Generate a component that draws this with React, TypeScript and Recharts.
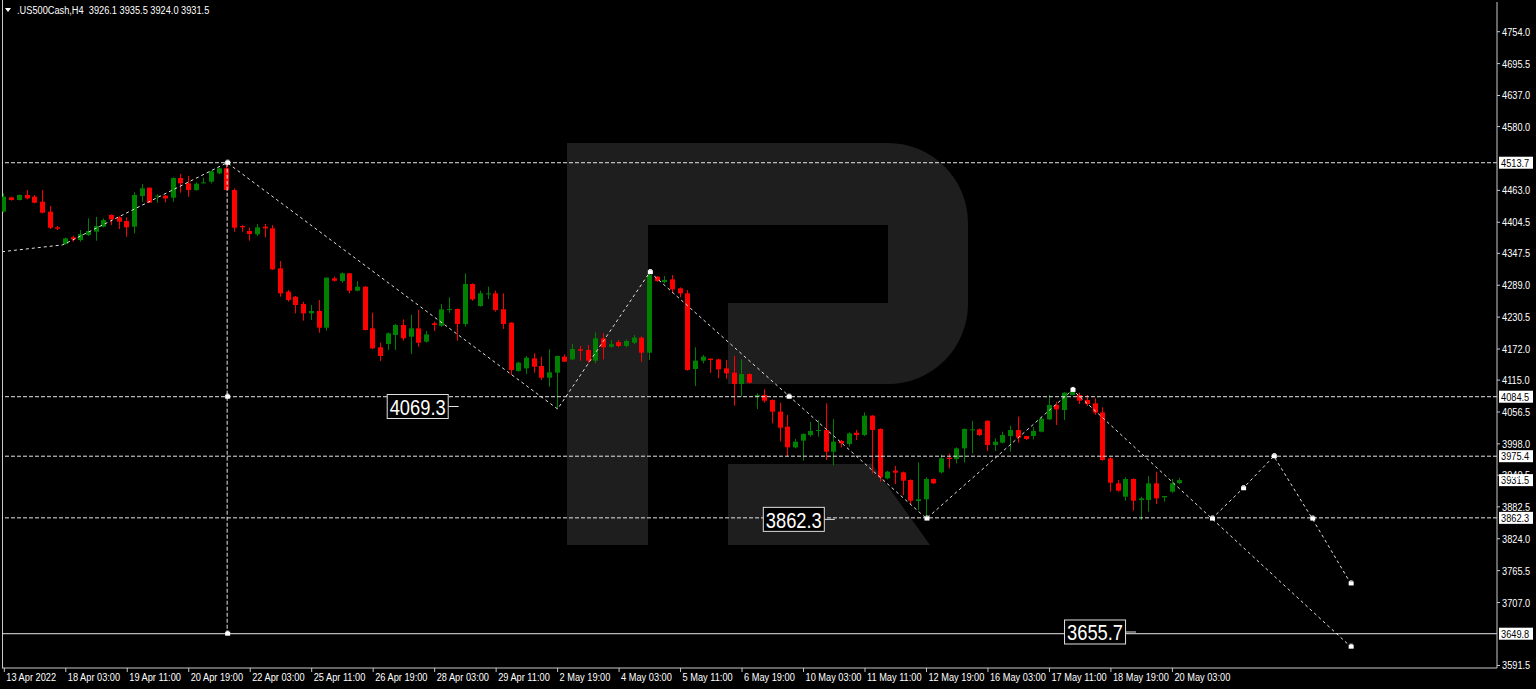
import React from 'react';
import { ComposedChart, XAxis, YAxis, Bar, Line, Scatter, ReferenceLine, ReferenceDot } from 'recharts';

// ---- data (US500Cash H4) ----
const OPEN = [4424,4450.2,4445.3,4454.5,4451.4,4442.2,4423.9,4395.2,4364.6,4376.8,4371.9,4381.1,4387.2,4396.4,4417.8,4413.5,4406.8,4396.4,4452.6,4467.9,4451.4,4453.2,4449.6,4485.6,4475.9,4463.6,4476.5,4478.9,4494.2,4503.4,4463.6,4397.6,4388.4,4382.3,4396.4,4393.3,4319.9,4277.2,4268.0,4254.5,4237.4,4241.7,4211.1,4301.6,4296.7,4310.8,4279.0,4286.3,4209.9,4175.1,4181.2,4197.7,4216.0,4194.6,4209.9,4185.5,4219.1,4214.8,4243.5,4245.4,4217.8,4291.2,4250.9,4272.9,4274.1,4244.8,4220.3,4131.7,4136.5,4154.9,4140.8,4119.4,4128.6,4157.9,4153.0,4171.4,4170.2,4150.6,4191.6,4176.3,4184.8,4177.5,4183.6,4192.8,4165.3,4304.7,4294.9,4299.8,4283.3,4274.1,4135.3,4150.6,4154.3,4153.0,4136.5,4128.6,4107.8,4126.1,4084.6,4087.6,4078.5,4057.1,4029.6,3991.6,4003.9,4014.2,4021.6,4023.4,3983.7,4003.3,3997.8,4018.5,4014.2,4049.7,4025.3,3934.8,3948.8,3945.8,3931.7,3893.2,3896.3,3933.6,3945.8,3972.7,3970.2,3989.8,4023.4,4024.6,4040.5,3995.9,4000.2,4012.4,4023.4,4012.4,4012.4,4020.4,4043.0,4069.3,4060.1,4087.6,4087.6,4078.4,4072.3,4055.8,3971.5,3925.6,3901.1,3933.6,3895.0,3895.0,3925.6,3899.9,3910.3,3926.1];
const HIGH = [4457.5,4451.4,4455.7,4463.6,4454.5,4463.6,4434.3,4397.6,4376.2,4379.9,4390.3,4411.7,4414.7,4411.7,4419.0,4415.9,4413.5,4459.4,4474.6,4468.5,4455.7,4454.5,4486.9,4493.0,4489.3,4477.7,4486.3,4499.1,4504.6,4513.7,4466.7,4399.4,4394.5,4401.3,4401.3,4399.4,4333.4,4280.2,4269.2,4258.8,4252.7,4261.9,4303.5,4304.7,4312.6,4311.5,4296.7,4287.5,4238.6,4183.6,4202.6,4217.9,4226.4,4235.0,4243.5,4205.0,4222.1,4254.5,4266.8,4246.6,4310.8,4292.4,4279.0,4286.3,4279.0,4274.1,4221.0,4148.8,4159.2,4164.1,4158.0,4171.4,4159.8,4162.2,4181.2,4177.5,4179.3,4202.6,4200.8,4188.5,4188.5,4189.7,4197.7,4195.2,4313.9,4305.9,4305.9,4307.7,4285.1,4280.2,4175.1,4161.0,4154.9,4154.3,4151.8,4159.2,4153.0,4127.4,4090.7,4098.0,4079.7,4073.6,4050.9,4007.0,4017.3,4038.7,4041.8,4072.4,4043.6,4005.1,4019.2,4023.4,4055.8,4050.9,4026.5,3948.8,3957.4,3947.0,3932.9,3964.1,3936.6,3934.8,3978.2,3980.6,3991.6,4026.5,4040.5,4026.5,4041.0,4008.1,4020.4,4031.4,4047.9,4012.9,4029.5,4047.9,4087.6,4075.4,4092.5,4096.8,4091.9,4087.6,4081.5,4065.0,3973.3,3931.7,3936.6,3934.8,3901.1,3939.0,3947.0,3902.4,3933.6,3935.5];
const LOW = [4422,4444.1,4444.5,4446.5,4439.2,4420.8,4392.1,4390.3,4363.4,4368.9,4368.9,4379.3,4370.7,4395.2,4399.4,4392.1,4378.0,4384.2,4442.2,4439.8,4440.4,4441.0,4442.2,4458.7,4451.4,4462.4,4475.9,4475.9,4492.4,4462.4,4387.2,4387.2,4370.7,4379.3,4376.8,4316.9,4268.0,4258.8,4237.4,4224.0,4225.2,4201.9,4205.6,4295.5,4293.7,4274.1,4277.8,4206.2,4172.0,4150.0,4170.2,4170.2,4187.3,4162.8,4176.3,4183.6,4205.0,4213.0,4238.6,4187.3,4213.0,4260.6,4249.6,4263.7,4240.5,4208.7,4124.3,4130.4,4126.1,4128.6,4115.1,4102.9,4062.0,4148.2,4151.8,4150.6,4145.7,4145.7,4153.0,4174.5,4175.1,4175.1,4181.2,4148.8,4151.8,4295.5,4292.4,4274.1,4266.8,4132.3,4104.1,4145.7,4128.6,4118.8,4117.0,4068.1,4084.6,4109.0,4062.0,4073.6,4035.7,4002.0,3975.7,3989.8,3967.2,4011.2,4011.2,3968.4,3958.6,3991.6,3992.9,4005.1,4012.4,3943.9,3928.7,3933.0,3924.4,3904.2,3887.7,3876.7,3861.4,3924.4,3943.9,3953.1,3962.3,3964.0,3980.6,4012.4,3984.9,3984.9,3999.0,3983.7,4000.2,4005.1,4006.3,4019.1,4041.8,4032.6,4041.8,4087.0,4071.1,4067.4,4051.5,3967.2,3910.3,3910.3,3893.8,3875.4,3858.3,3873.6,3887.7,3891.9,3908.5,3924.0];
const CLOSE = [4451.4,4445.3,4454.5,4448.3,4440.4,4422.1,4394.5,4392.7,4375.0,4373.1,4382.9,4388.4,4397.6,4408.6,4409.8,4405.5,4395.2,4454.5,4466.7,4440.4,4453.2,4448.3,4485.6,4475.9,4463.6,4475.2,4477.7,4497.9,4503.4,4463.6,4394.5,4395.2,4382.9,4395.2,4393.3,4318.1,4274.1,4261.9,4252.7,4237.4,4241.7,4211.1,4302.8,4297.3,4310.8,4279.0,4286.3,4206.8,4173.2,4159.2,4200.7,4216.0,4191.6,4209.9,4183.6,4198.9,4216.0,4244.7,4245.4,4217.8,4291.2,4263.1,4274.1,4274.1,4243.5,4217.9,4133.5,4147.0,4156.1,4139.6,4119.4,4129.2,4159.2,4148.8,4172.0,4168.9,4150.6,4191.6,4175.1,4180.6,4177.5,4186.7,4192.8,4165.3,4307.7,4296.7,4298.6,4281.4,4274.1,4133.5,4150.6,4158.0,4151.8,4134.7,4127.4,4107.8,4126.1,4110.2,4087.6,4077.2,4057.1,4027.7,3991.6,4002.0,4016.1,4021.6,4023.4,3983.7,4002.0,3999.0,4017.3,4014.2,4049.7,4023.4,3936.6,3947.0,3945.2,3930.5,3893.8,3896.3,3933.6,3925.6,3971.5,3970.2,3989.8,4025.3,4024.6,4014.2,3995.9,4002.0,4014.2,4023.4,4009.4,4006.9,4021.6,4044.2,4069.3,4061.3,4091.9,4093.7,4077.2,4071.1,4055.2,3968.4,3926.8,3912.1,3933.6,3893.8,3898.1,3925.6,3898.1,3902.4,3925.6,3931.5];

const X_TICK_BARS = [0,8,16,24,32,40,48,56,64,72,80,88,96,104,112,120,128,136,144,152];
const X_LABELS = ['13 Apr 2022','18 Apr 03:00','19 Apr 11:00','20 Apr 19:00','22 Apr 03:00','25 Apr 11:00','26 Apr 19:00','28 Apr 03:00','29 Apr 11:00','2 May 19:00','4 May 03:00','5 May 11:00','6 May 19:00','10 May 03:00','11 May 11:00','12 May 19:00','16 May 03:00','17 May 11:00','18 May 19:00','20 May 03:00'];
const Y_TICKS = [4754.0,4695.5,4637.0,4580.0,4463.0,4404.5,4347.5,4289.0,4230.5,4172.0,4115.0,4056.5,3998.0,3940.5,3882.5,3824.0,3765.5,3707.0,3591.5];

const DASHED_LEVELS = [4513.7, 4084.5, 3975.4, 3862.3];
const SOLID_LEVEL = 3649.8;
const PRICE_BOXES = [4513.7, 4084.5, 3975.4, 3931.5, 3862.3, 3649.8];

// zigzag / forecast paths: [bar position, price]
const WAVE_MAIN = [[-0.3,4350.5],[7.6,4363],[29,4513.7],[72,4062],[84,4313],[120,3861],[139,4097],[175.2,3626]];
const WAVE_ALT = [[157.15,3861],[161.2,3916.6],[165.2,3975.4],[170.2,3861],[175.2,3742]];
const VERTICAL = [[29,4513.7],[29,3649.8]];
const MARKERS = [[29,4513.7],[29,4084.5],[29,3649.8],[84,4313],[102.07,4084.5],[120,3861],[139,4097],[157.15,3861],[161.2,3916.6],[165.2,3975.4],[170.2,3861],[175.2,3742],[175.2,3626]];
const TEXT_LABELS = [[49.76,4069.3,'4069.3'],[98.7,3862.3,'3862.3'],[137.9,3655.7,'3655.7']] as [number, number, string][];

const HEADER = '.US500Cash,H4\u00a0\u00a03926.1 3935.5 3924.0 3931.5';

const X_MIN = -0.3, X_MAX = 194.24;
const Y_MIN = 3586.9, Y_MAX = 4808.5;
const GREEN = '#008000';
const RED = '#ff0000';
const AXIS = '#c8c8c8';
const FONT = "'Liberation Sans', Arial, sans-serif";
const SQUEEZE = 0.84;

const candles = OPEN.map((o, i) => ({ i, o, h: HIGH[i], l: LOW[i], c: CLOSE[i] }));
const toPts = (arr: number[][]) => arr.map(([i, v]) => ({ i, v }));

const NarrowText = ({ x, y, fill, size, children }: any) => (
  <text transform={`translate(${x} ${y}) scale(${SQUEEZE} 1)`} x={0} y={0} fill={fill} fontSize={size} fontFamily={FONT}>
    {children}
  </text>
);

const Candle = (props: any) => {
  const { x, y, width, height, payload } = props;
  if (!payload || x == null || y == null) return null;
  const { o, h, l, c } = payload;
  const span = h - l;
  const py = (p: number) => (span > 0 ? y + ((h - p) / span) * height : y);
  const cx = Math.round(x + width / 2 - 0.5);
  const col = c >= o ? GREEN : RED;
  const top = py(Math.max(o, c));
  const bot = py(Math.min(o, c));
  const bh = Math.max(1, bot - top);
  return (
    <g>
      <rect x={cx} y={y} width={1} height={Math.max(1, height)} fill={col} />
      <rect x={cx - 2} y={top} width={5} height={bh} fill={col} />
    </g>
  );
};

const YTick = (props: any) => {
  const { x, y, payload } = props;
  return <NarrowText x={x} y={y + 4} fill="#ffffff" size={11}>{Number(payload.value).toFixed(1)}</NarrowText>;
};

const XTick = (props: any) => {
  const { x, y, payload } = props;
  const k = X_TICK_BARS.indexOf(payload.value);
  return <NarrowText x={x + 2} y={y + 7} fill="#ffffff" size={11}>{k >= 0 ? X_LABELS[k] : ''}</NarrowText>;
};

const Marker = (props: any) => {
  const { cx, cy } = props;
  if (cx == null || cy == null) return null;
  return (
    <g fill="#ffffff">
      <rect x={cx - 2} y={cy - 2} width={5} height={4} />
      <rect x={cx - 1} y={cy - 3} width={3} height={1} />
    </g>
  );
};

const PriceBox = (value: number) => (props: any) => {
  const { cx, cy } = props;
  if (cx == null || cy == null) return null;
  return (
    <g>
      <rect x={cx + 2} y={cy - 6} width={34} height={12} fill="#ffffff" />
      <NarrowText x={cx + 4} y={cy + 4} fill="#000000" size={11}>{value.toFixed(1)}</NarrowText>
    </g>
  );
};

const TextBox = (text: string) => (props: any) => {
  const { cx, cy } = props;
  if (cx == null || cy == null) return null;
  return (
    <g>
      <rect x={cx + 0.5} y={cy - 10.5} width={61} height={24} fill="#000000" stroke="#e0e0e0" strokeWidth={1} />
      <text x={cx + 3} y={cy + 10} fill="#ffffff" fontSize={22} fontFamily={FONT} textLength={56} lengthAdjust="spacingAndGlyphs">{text}</text>
      <rect x={cx + 62} y={cy + 1} width={10} height={1} fill="#e0e0e0" />
    </g>
  );
};

export default function App() {
  return (
    <div style={{ position: 'fixed', left: 0, top: 0, width: 1536, height: 689, background: '#000', overflow: 'hidden' }}>
      <svg width={1536} height={689} style={{ position: 'absolute', left: 0, top: 0 }}>
        <g fill="#1e1e1e">
          <path d="M567,143 H648 V545 H567 Z" />
          <path d="M648,143 H888 A80,80 0 0 1 968,223 V304 A80,80 0 0 1 888,384 H728 V303 H888 V225 H648 Z" />
          <path d="M728,464 H872 L930,545 H728 Z" />
        </g>
        <rect x={2} y={0} width={1} height={668} fill={AXIS} />
        <polygon points="5,8 11,8 8,12" fill="#ffffff" />
        <NarrowText x={17} y={14} fill="#ffffff" size={11}>{HEADER}</NarrowText>
      </svg>
      <div style={{ position: 'absolute', left: 0, top: 0 }}>
        <ComposedChart width={1536} height={689} data={candles} margin={{ top: 2, right: 0, bottom: 0, left: 2 }}>
          <XAxis
            dataKey="i"
            type="number"
            domain={[X_MIN, X_MAX]}
            allowDataOverflow
            ticks={X_TICK_BARS}
            interval={0}
            height={21}
            tickSize={4}
            axisLine={{ stroke: AXIS }}
            tickLine={{ stroke: AXIS }}
            tick={<XTick />}
          />
          <XAxis xAxisId="ov" dataKey="i" type="number" domain={[X_MIN, X_MAX]} allowDataOverflow hide />
          <YAxis
            orientation="right"
            type="number"
            domain={[Y_MIN, Y_MAX]}
            allowDataOverflow
            ticks={Y_TICKS}
            interval={0}
            width={39}
            tickSize={3}
            axisLine={{ stroke: AXIS }}
            tickLine={{ stroke: AXIS }}
            tick={<YTick />}
          />
          {DASHED_LEVELS.map((v) => (
            <ReferenceLine key={v} y={v} stroke="#e6e6e6" strokeDasharray="4 2" />
          ))}
          <ReferenceLine y={SOLID_LEVEL} stroke="#e6e6e6" />
          <Bar dataKey={(d: any) => [d.l, d.h]} barSize={5} shape={Candle} isAnimationActive={false} />
          <Line xAxisId="ov" data={toPts(VERTICAL)} dataKey="v" stroke="#e6e6e6" strokeDasharray="4 2" dot={false} activeDot={false} isAnimationActive={false} />
          <Line xAxisId="ov" data={toPts(WAVE_MAIN)} dataKey="v" stroke="#e0e0e0" strokeDasharray="3 3" dot={false} activeDot={false} isAnimationActive={false} />
          <Line xAxisId="ov" data={toPts(WAVE_ALT)} dataKey="v" stroke="#e0e0e0" strokeDasharray="3 3" dot={false} activeDot={false} isAnimationActive={false} />
          <Scatter xAxisId="ov" data={toPts(MARKERS)} dataKey="v" shape={<Marker />} isAnimationActive={false} />
          {TEXT_LABELS.map(([i, v, t]) => (
            <ReferenceDot key={t} xAxisId="ov" x={i} y={v} ifOverflow="visible" shape={TextBox(t)} />
          ))}
          {PRICE_BOXES.map((v) => (
            <ReferenceDot key={v} xAxisId="ov" x={X_MAX} y={v} ifOverflow="visible" shape={PriceBox(v)} />
          ))}
        </ComposedChart>
      </div>
    </div>
  );
}
